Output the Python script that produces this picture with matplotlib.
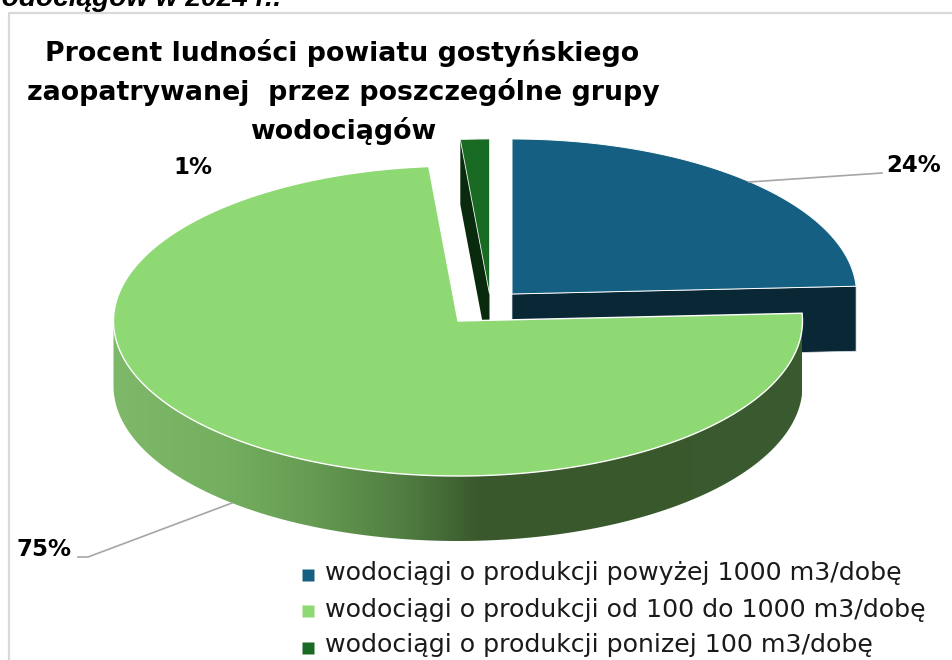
import matplotlib
matplotlib.use("Agg")
import matplotlib.pyplot as plt
import numpy as np
from matplotlib.colors import LinearSegmentedColormap
from matplotlib.patches import Polygon

# Dane
kategorie = [
    "wodociągi o produkcji powyżej 1000 m3/dobę",
    "wodociągi o produkcji od 100 do 1000 m3/dobę",
    "wodociągi o produkcji ponizej 100 m3/dobę",
]
wartosci = [24.2, 74.45, 1.35]
etykiety = ["24%", "75%", "1%"]
kolory = ["#156082", "#8ED973", "#196B24"]
tytul = ["Procent ludności powiatu gostyńskiego",
         "zaopatrywanej  przez poszczególne grupy",
         "wodociągów"]

# Geometria pseudo-3D w pikselach obrazka
RX, RY, GLEB = 344.5, 155, 65
srodki = [(512, 294), (458, 321), (489.5, 294)]

fig = plt.figure(figsize=(9.53, 6.6), dpi=100)
ax = fig.add_axes([0, 0, 1, 1])
ax.set_xlim(0, 953)
ax.set_ylim(660, 0)
ax.axis("off")

katy = np.cumsum([0] + wartosci) / sum(wartosci) * 2 * np.pi


def luk(srodek, start, stop, dy=0):
    t = np.linspace(start, stop, 300)
    return np.column_stack([srodek[0] + RX * np.sin(t), srodek[1] - RY * np.cos(t) + dy])


def wycinek(srodek, start, stop):
    return np.vstack([[srodek], luk(srodek, start, stop)])


# ramka wykresu i uciety tekst nad nia
ax.plot([9, 9, 953], [660, 13, 13], color="#D9D9D9", lw=1.6)
ax.text(-20, 6, "wodociągów w 2024 r.:", fontsize=20.2, fontweight="bold", style="italic",
        family="Liberation Sans", color="black", va="baseline", ha="left")

# maly wycinek (z tylu)
s = srodki[2]
a, b = katy[2], katy[3]
krawedz = np.array([s, luk(s, a, a)[0]])
sciana = np.vstack([krawedz, krawedz[::-1] + [0, GLEB]])
ax.add_patch(Polygon(sciana, closed=True, fc="#0A2A0E", ec="none", zorder=2))
ax.add_patch(Polygon(wycinek(s, a, b), closed=True, fc=kolory[2], ec="#E8F0E8", lw=0.6, zorder=3))

# niebieski wycinek
s = srodki[0]
a, b = katy[0], katy[1]
krawedz = np.array([s, luk(s, b, b)[0]])
sciana = np.vstack([krawedz, krawedz[::-1] + [0, GLEB]])
ax.add_patch(Polygon(sciana, closed=True, fc="#0A2736", ec="#DDE4E8", lw=0.5, zorder=4))
ax.add_patch(Polygon(wycinek(s, a, b), closed=True, fc=kolory[0], ec="white", lw=0.7, zorder=5))

# duzy wycinek z gradientem na boku
s = srodki[1]
a, b = katy[1], katy[2]
gora = luk(s, a, min(b, 1.5 * np.pi))
bok = Polygon(np.vstack([gora, gora[::-1] + [0, GLEB]]), closed=True, fc="none", ec="none",
              transform=ax.transData)
ax.add_patch(bok)
gradient = LinearSegmentedColormap.from_list(
    "bok", [(0, "#7DB968"), (0.15, "#75B060"), (0.285, "#669C53"), (0.43, "#4F7B40"),
            (0.53, "#39592C"), (1, "#3A5A2F")])
obraz = ax.imshow(np.linspace(0, 1, 256).reshape(1, -1), cmap=gradient, aspect="auto",
                  extent=[s[0] - RX, s[0] + RX, s[1] + RY + GLEB, s[1] - RY], zorder=6)
obraz.set_clip_path(bok)
ax.set_xlim(0, 953)
ax.set_ylim(660, 0)
ax.add_patch(Polygon(wycinek(s, a, b), closed=True, fc=kolory[1], ec="white", lw=1.0, zorder=7))

# tytul
for linia, x, y in zip(tytul, [342, 343, 343], [53, 92, 131]):
    ax.text(x, y, linia, fontsize=19.3, fontweight="bold", family="DejaVu Sans", ha="center",
            va="center", color="black", zorder=10)

# etykiety danych i linie odniesienia
ax.plot([749, 882], [182, 173], color="#A6A6A6", lw=1.2, zorder=8)
ax.plot([232, 88, 78], [503, 557, 557], color="#A6A6A6", lw=1.2, zorder=8)
for tekst, x, y in zip(etykiety, [914, 44, 193], [165, 549, 167]):
    ax.text(x, y, tekst, fontsize=16.5, fontweight="bold", family="DejaVu Sans",
            ha="center", va="center", color="black", zorder=10)

# legenda
for nazwa, kolor, ym, yt in zip(kategorie, kolory, [575, 611, 648], [580, 617, 652]):
    ax.plot([308.5], [ym], marker="s", ms=9, mfc=kolor, mec="none", ls="none", zorder=10)
    ax.text(325, yt, nazwa, fontsize=18.2, family="DejaVu Sans", ha="left", va="baseline",
            color="#1A1A1A", zorder=10)

fig.savefig("out.png", dpi=100)
